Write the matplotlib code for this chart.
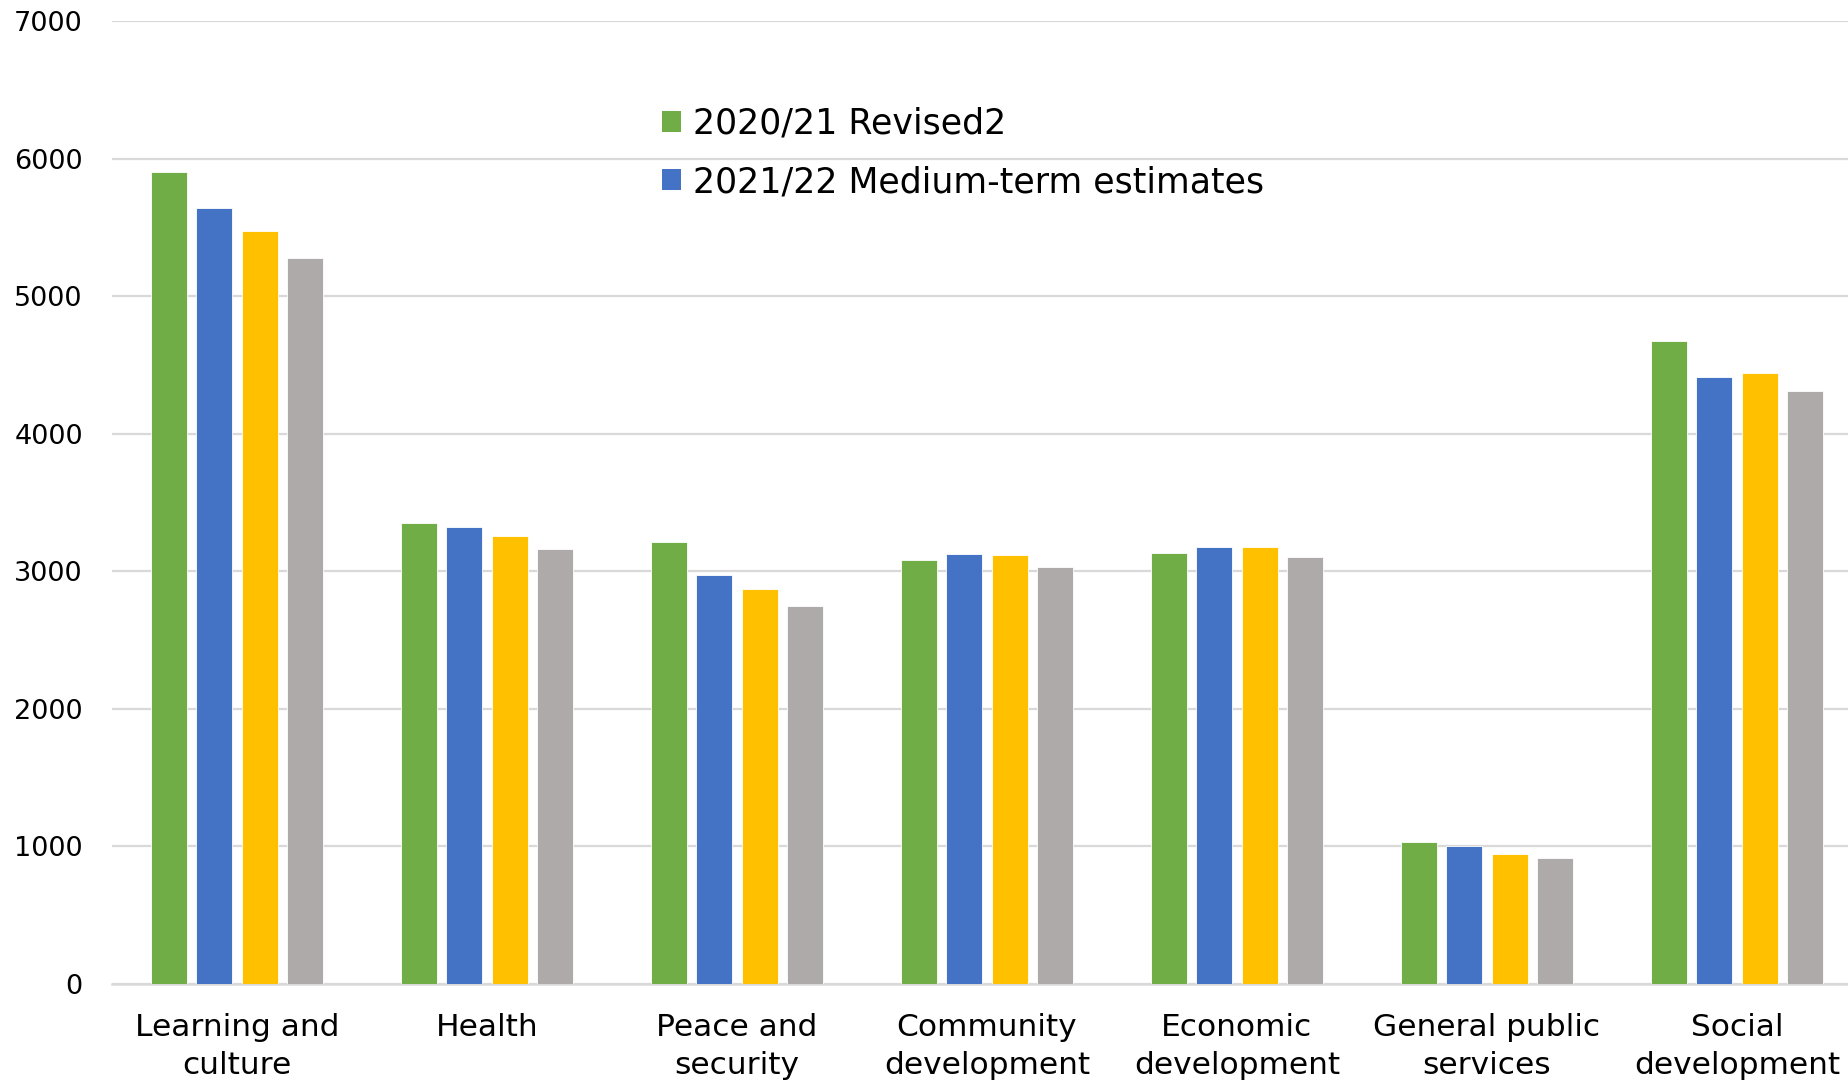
import matplotlib
matplotlib.use("Agg")
import matplotlib.pyplot as plt
from matplotlib.patches import Patch
import numpy as np

plt.rcParams['font.family'] = ['DejaVu Sans']

categories = ["Learning and\nculture", "Health", "Peace and\nsecurity", "Community\ndevelopment",
              "Economic\ndevelopment", "General public\nservices", "Social\ndevelopment"]
series_names = ["2020/21 Revised2", "2021/22 Medium-term estimates",
                "2022/23 Medium-term estimates", "2023/24 Medium-term estimates"]
revised_2020 = [5903, 3349, 3211, 3084, 3131, 1034, 4673]
est_2021 = [5639, 3320, 2973, 3123, 3174, 1003, 4409]
est_2022 = [5474, 3257, 2869, 3121, 3176, 947, 4441]
est_2023 = [5278, 3160, 2748, 3031, 3104, 915, 4309]
yticks = [0, 1000, 2000, 3000, 4000, 5000, 6000, 7000]

colors = ["#70AD47", "#4472C4", "#FFC000", "#AEAAAA"]
values = [revised_2020, est_2021, est_2022, est_2023]

W, H = 1849, 1086
fig = plt.figure(figsize=(W / 100, H / 100), dpi=100)
# plot area runs slightly past the right edge of the canvas
left, right = 112 / W, 1862 / W
bottom, top = 1 - 984 / H, 1 - 21 / H
ax = fig.add_axes([left, bottom, right - left, top - bottom])

x = np.arange(len(categories))
slot = 0.181
bw = 0.144
for i, (vals, col) in enumerate(zip(values, colors)):
    ax.bar(x + (i - 1.5) * slot, vals, width=bw, color=col, edgecolor="white",
           linewidth=0.6, zorder=3)

ax.set_xlim(-0.5, len(categories) - 0.5)
ax.set_ylim(0, 7000)
ax.set_yticks(yticks)
ax.set_yticklabels([str(t) for t in yticks], fontsize=19.5)
ax.set_xticks(x)
ax.set_xticklabels(categories, fontsize=22.5, linespacing=1.4)
ax.tick_params(axis="both", length=0)
ax.tick_params(axis="y", pad=21)
ax.tick_params(axis="x", pad=21)
ax.yaxis.grid(True, color="#D9D9D9", linewidth=1.6, zorder=0)
ax.set_axisbelow(True)
for s in ["top", "right", "left"]:
    ax.spines[s].set_visible(False)
ax.spines["bottom"].set_color("#D9D9D9")
ax.spines["bottom"].set_linewidth(1.8)

handles = [Patch(facecolor=colors[i], edgecolor="none") for i in range(2)]
fig.legend(handles, series_names[:2], loc="center left",
           bbox_to_anchor=(662 / W, 1 - 153 / H), frameon=False, fontsize=25,
           handlelength=0.55, handleheight=0.55, handletextpad=0.35, labelspacing=0.7,
           borderpad=0, borderaxespad=0)

fig.savefig("out.png", dpi=100)
